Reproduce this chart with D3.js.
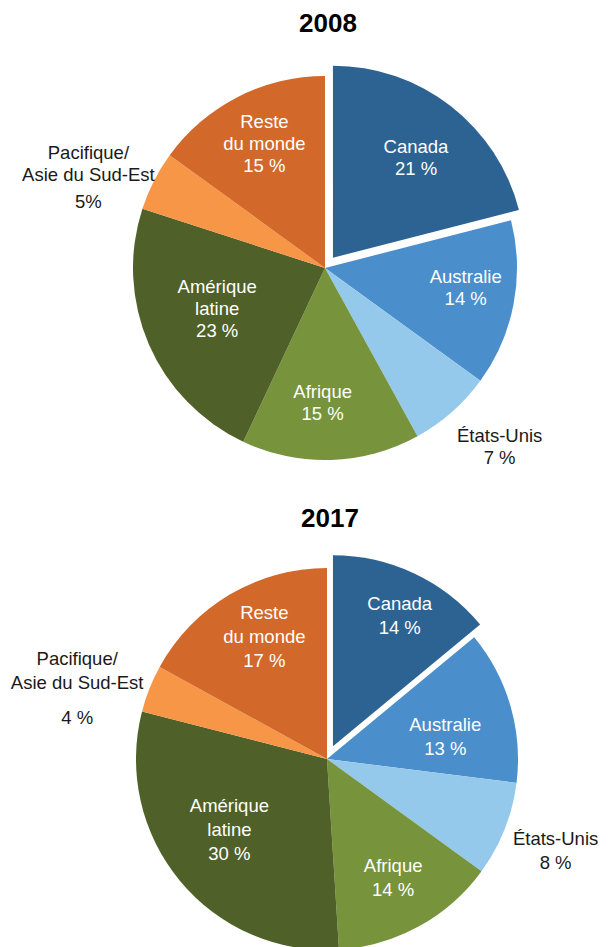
<!DOCTYPE html>
<html>
<head>
<meta charset="utf-8">
<script src="https://cdn.jsdelivr.net/npm/d3@7"></script>
<style>
  html, body { margin: 0; padding: 0; background: #fff; }
  svg { display: block; font-family: "Liberation Sans", Arial, sans-serif; }
</style>
</head>
<body>
<svg id="chart" width="608" height="947"></svg>
<script>
// ---- Data ----
const categories = ["Canada", "Australie", "États-Unis", "Afrique", "Amérique latine", "Pacifique/Asie du Sud-Est", "Reste du monde"];
const years = ["2008", "2017"];
const values2008 = [21, 14, 7, 15, 23, 5, 15];
const values2017 = [14, 13, 8, 14, 30, 4, 17];
const labels2008 = [["Canada", "21 %"], ["Australie", "14 %"], ["États-Unis", "7 %"], ["Afrique", "15 %"], ["Amérique", "latine", "23 %"], ["Pacifique/", "Asie du Sud-Est", "5%"], ["Reste", "du monde", "15 %"]];
const labels2017 = [["Canada", "14 %"], ["Australie", "13 %"], ["États-Unis", "8 %"], ["Afrique", "14 %"], ["Amérique", "latine", "30 %"], ["Pacifique/", "Asie du Sud-Est", "4 %"], ["Reste", "du monde", "17 %"]];
const colors = ["#2C6393", "#4A8ECB", "#95C9EC", "#77933C", "#4F6128", "#F79646", "#D2692A"];
const explodedIndex = 0;

// ---- Layout (styling / positioning, not data) ----
const layouts = [
  { cx: 325, cy: 268, r: 192, titleY: 32, explode: 13, lh: 22, gap: 5,
    nudge: [1.7, -2.8, -3, 2.8, 2.8, -6, 1], k: [0.68, 0.74, 1.30, 0.70, 0.60, 1.32, 0.72] },
  { cx: 327, cy: 759, r: 191, titleY: 527, explode: 14, lh: 24, gap: 11,
    nudge: [1.8, 5.6, 0.3, -0.4, 3.8, -5.7, 3.5], k: [0.77, 0.63, 1.29, 0.71, 0.63, 1.36, 0.72] }
];
const seriesValues = [values2008, values2017];
const seriesLabels = [labels2008, labels2017];

const svg = d3.select("#chart");
const pie = d3.pie().sort(null).value(d => d);

seriesValues.forEach((vals, si) => {
  const L = layouts[si];
  const arc = d3.arc().innerRadius(0).outerRadius(L.r);
  const arcs = pie(vals);
  const g = svg.append("g").attr("transform", `translate(${L.cx},${L.cy})`);

  svg.append("text")
    .attr("x", L.cx + 3).attr("y", L.titleY)
    .attr("text-anchor", "middle")
    .attr("font-size", 26).attr("font-weight", "bold").attr("fill", "#000")
    .text(years[si]);

  arcs.forEach((a, i) => {
    const mid = (a.startAngle + a.endAngle) / 2;
    const off = i === explodedIndex ? L.explode : 0;
    const ox = Math.sin(mid) * off, oy = -Math.cos(mid) * off;
    g.append("path")
      .attr("d", arc(a))
      .attr("transform", `translate(${ox},${oy})`)
      .attr("fill", colors[i]);

    const ang = mid + L.nudge[i] * Math.PI / 180;
    const dist = L.k[i] * L.r;
    const lx = ox + Math.sin(ang) * dist;
    const ly = oy - Math.cos(ang) * dist;
    const lines = seriesLabels[si][i];
    const n = lines.length;
    const isPac = i === 5;
    const offsets = lines.map((_, j) => j * L.lh + (isPac && j === n - 1 ? L.gap : 0));
    const midOff = (offsets[0] + offsets[n - 1]) / 2;
    const outside = L.k[i] > 1;
    const t = g.append("text")
      .attr("text-anchor", "middle")
      .attr("font-size", 18.5)
      .attr("fill", outside ? "#1a1a1a" : "#fff");
    lines.forEach((s, j) => {
      t.append("tspan")
        .attr("x", lx)
        .attr("y", ly + offsets[j] - midOff + 6.5)
        .text(s);
    });
  });
});
</script>
</body>
</html>
